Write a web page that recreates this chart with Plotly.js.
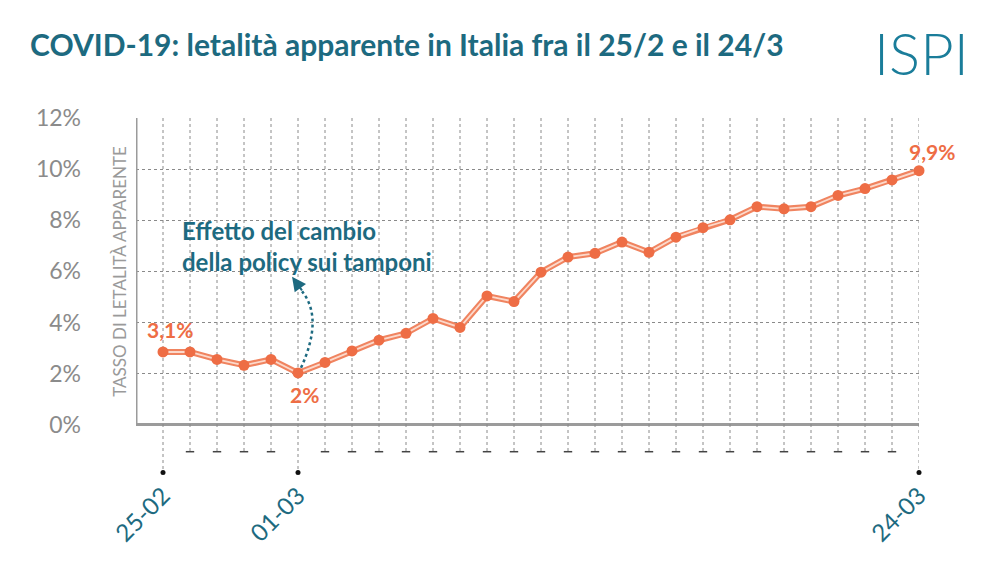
<!DOCTYPE html>
<html>
<head>
<meta charset="utf-8">
<script src="https://cdn.plot.ly/plotly-3.0.1.min.js"></script>
<style>html,body{margin:0;padding:0;background:#fff;}#chart{width:1000px;height:562px;}</style>
</head>
<body>
<div id="chart"></div>
<script>
// ---- data ----
var dates = ['25-02','26-02','27-02','28-02','29-02','01-03','02-03','03-03','04-03','05-03',
             '06-03','07-03','08-03','09-03','10-03','11-03','12-03','13-03','14-03','15-03',
             '16-03','17-03','18-03','19-03','20-03','21-03','22-03','23-03','24-03'];
var letalita = [2.85, 2.85, 2.56, 2.33, 2.56, 2.03, 2.44, 2.89, 3.31, 3.58,
                4.16, 3.81, 5.04, 4.82, 5.97, 6.56, 6.71, 7.15, 6.75, 7.34,
                7.71, 8.02, 8.53, 8.45, 8.53, 8.97, 9.24, 9.58, 9.94];
var labeledDates = ['25-02','01-03','24-03'];
var yTicks = [0, 2, 4, 6, 8, 10, 12];
var yTickText = ['0%','2%','4%','6%','8%','10%','12%'];
var pointLabels = [
  {date:'25-02', text:'3,1%'},
  {date:'01-03', text:'2%'},
  {date:'24-03', text:'9,9%'}
];

// ---- styles ----
var ORANGE = '#EE6D45';
var TEAL = '#1d6a80';
var GRID = '#8a8a8a';

// vertical dotted guide lines built from the dates
var vx = [], vy = [], dashX = [], dashY = [], dotX = [], dotY = [];
dates.forEach(function(d){
  var labeled = labeledDates.indexOf(d) >= 0;
  var bottom = labeled ? -1.86 : -1.05;
  vx.push(d, d, null); vy.push(12, bottom, null);
  if (labeled) { dotX.push(d); dotY.push(bottom); }
  else { dashX.push(d); dashY.push(bottom); }
});

var traces = [
  {x: vx, y: vy, mode: 'lines', line: {color: GRID, width: 1, dash: 'dot'}, hoverinfo: 'skip', showlegend: false},
  {x: dashX, y: dashY, mode: 'markers', marker: {symbol: 'line-ew-open', size: 6, color: '#444', line: {color: '#444', width: 1.5}}, hoverinfo: 'skip', showlegend: false, cliponaxis: false},
  {x: dotX, y: dotY, mode: 'markers', marker: {symbol: 'circle', size: 5, color: '#111'}, hoverinfo: 'skip', showlegend: false, cliponaxis: false},
  {x: dates, y: letalita, mode: 'lines', line: {color: '#F08460', width: 6}, hoverinfo: 'skip', showlegend: false},
  {x: dates, y: letalita, mode: 'lines+markers', line: {color: '#FCD9CB', width: 1.8},
   marker: {color: ORANGE, size: 11}, showlegend: false, cliponaxis: false}
];

var annotations = [];
var shifts = {'25-02': [7, 22], '01-03': [6, -22], '24-03': [13, 19]};
pointLabels.forEach(function(p){
  var i = dates.indexOf(p.date);
  annotations.push({x: p.date, y: letalita[i], text: '<b>' + p.text + '</b>', showarrow: false,
    xshift: shifts[p.date][0], yshift: shifts[p.date][1],
    font: {family: 'Lato', size: 21, color: ORANGE}});
});
annotations.push({x: 0.63, y: 7.0, xref: 'x', yref: 'y', xanchor: 'left', yanchor: 'middle', align: 'left',
  text: '<b>Effetto del cambio<br>della policy sui tamponi</b>', showarrow: false,
  font: {family: 'Lato', size: 24, color: TEAL}});
annotations.push({x: 4.78, y: 5.79, xref: 'x', yref: 'y', text: '', showarrow: true,
  ax: 11, ay: 15, arrowhead: 2, arrowsize: 1.4, arrowwidth: 2, arrowcolor: TEAL});
annotations.push({x: -0.0215, y: 0.571, xref: 'paper', yref: 'paper', xanchor: 'center', textangle: -90, showarrow: false,
  text: 'TASSO DI LETALITÀ APPARENTE', font: {family: 'Lato', size: 17, color: '#9a9a9a'}});
annotations.push({x: 1.0026, y: 1.1816, xref: 'paper', yref: 'paper', xanchor: 'center', yanchor: 'middle', showarrow: false,
  text: 'ISPI', font: {family: 'Lato', size: 58, color: '#1a7d9a', weight: 300}});

var layout = {
  width: 1000, height: 562,
  margin: {l: 136, r: 81, t: 118, b: 86},
  paper_bgcolor: '#fff', plot_bgcolor: '#fff',
  title: {text: '<b>COVID-19: letalità apparente in Italia fra il 25/2 e il 24/3</b>',
    xref: 'container', yref: 'container', x: 0.03, xanchor: 'left', y: 1 - 45/562, yanchor: 'middle',
    font: {family: 'Lato', size: 30, color: TEAL}},
  xaxis: {type: 'category', range: [-1, 28], showgrid: false, zeroline: false, showline: false,
    tickmode: 'array', tickvals: labeledDates, ticktext: labeledDates, tickangle: -45, ticks: '',
    tickfont: {family: 'Lato', size: 24, color: TEAL}},
  yaxis: {range: [-2, 12], tickmode: 'array', tickvals: yTicks, ticktext: yTickText,
    showgrid: true, griddash: 'dot', gridcolor: GRID, gridwidth: 1,
    zeroline: true, zerolinecolor: '#9b9b9b', zerolinewidth: 3, showline: false, ticks: '',
    ticklabelstandoff: 54, tickfont: {family: 'Lato', size: 23, color: '#8b8b8b'}},
  shapes: [
    {type: 'line', xref: 'x', yref: 'y', x0: -1, x1: -1, y0: 0, y1: 12, line: {color: '#9b9b9b', width: 3}},
    {type: 'path', xref: 'x', yref: 'y', path: 'M 5.11,2.23 Q 5.95,4.18 5.15,5.22',
     line: {color: TEAL, width: 2.5, dash: 'dot'}}
  ],
  annotations: annotations,
  showlegend: false
};

Plotly.newPlot('chart', traces, layout, {displayModeBar: false, staticPlot: true});
</script>
</body>
</html>
